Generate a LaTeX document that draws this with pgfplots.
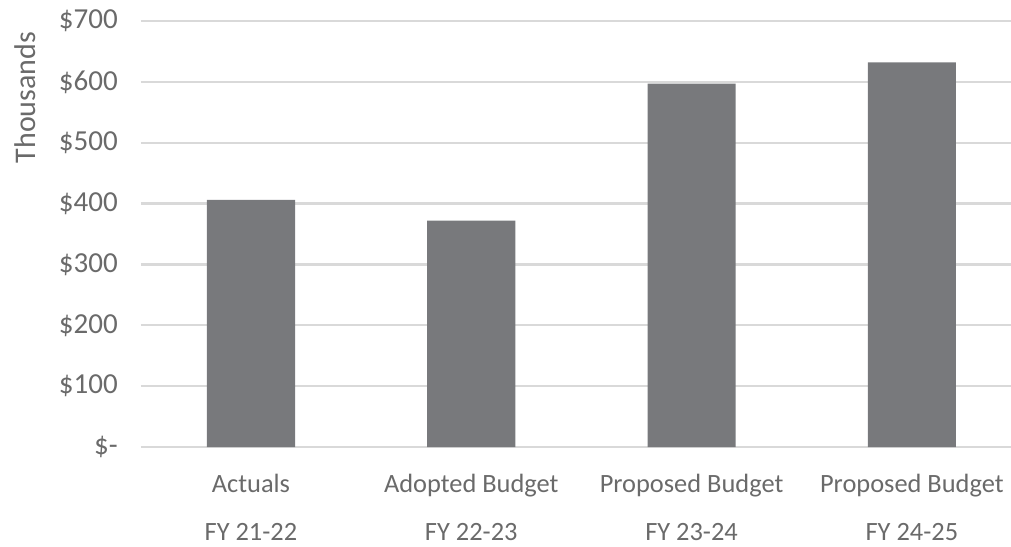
\documentclass[border=0pt]{standalone}
\usepackage{pgfplots}
\pgfplotsset{compat=1.18}
\usepackage{fontspec}
\setmainfont{Carlito}
\definecolor{barc}{HTML}{78797C}
\definecolor{gridc}{HTML}{D9D9D9}
\definecolor{txt}{HTML}{6A6A6A}
\begin{document}
\begin{tikzpicture}
\begin{axis}[
  name=ax,
  scale only axis,
  width=435.1pt, height=213pt,
  xmin=-0.5, xmax=3.45,
  ymin=0, ymax=700,
  axis x line=bottom, axis y line=left,
  axis line style={draw=none},
  ymajorgrids=true,
  grid style={gridc, line width=1.2pt},
  ytick={0,100,200,300,400,500,600,700},
  yticklabels={\$-,\$100,\$200,\$300,\$400,\$500,\$600,\$700},
  xtick={0,1,2,3},
  xticklabels={Actuals\\[9pt]FY 21-22, Adopted Budget\\[9pt]FY 22-23, Proposed Budget\\[9pt]FY 23-24, Proposed Budget\\[9pt]FY 24-25},
  xticklabel style={align=center, font=\fontsize{13.2pt}{15pt}\selectfont, text=txt, yshift=-10pt},
  yticklabel style={font=\fontsize{14.5pt}{16pt}\selectfont, text=txt, xshift=-8pt},
  major tick length=0pt,
  tick style={draw=none},
  clip=false,
]
\addplot[ybar, bar width=0.4, fill=barc, draw=none] coordinates {(0,406) (1,372) (2,597) (3,632)};
\node[rotate=90, anchor=center, font=\fontsize{15pt}{17pt}\selectfont, text=txt] at ([xshift=-58pt]axis description cs:0,0.82) {Thousands};
\end{axis}
\pgfresetboundingbox
\path[use as bounding box] ([xshift=-70.4pt,yshift=-49.5pt]ax.south west) rectangle ([yshift=223.5pt]ax.south east);
\end{tikzpicture}
\end{document}
